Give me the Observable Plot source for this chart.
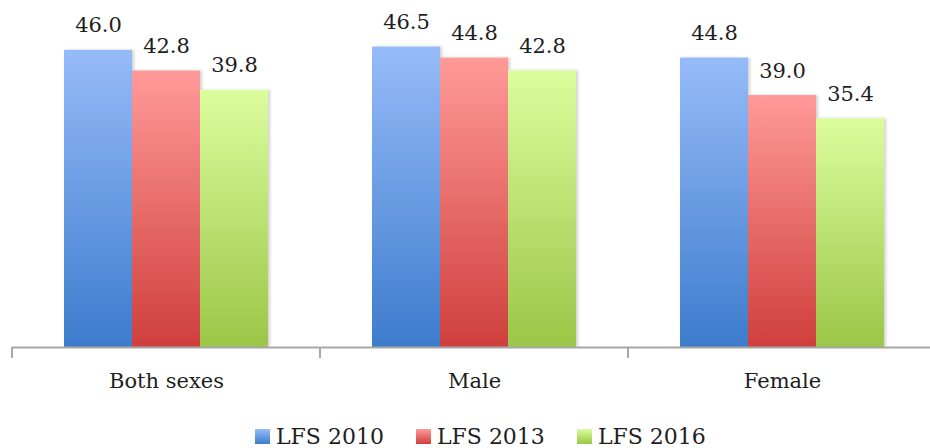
<!DOCTYPE html>
<html>
<head>
<meta charset="utf-8">
<script src="https://cdn.jsdelivr.net/npm/d3@7"></script>
<script src="https://cdn.jsdelivr.net/npm/@observablehq/plot@0.6"></script>
<style>
  html, body { margin: 0; padding: 0; background: #fff; overflow: hidden; }
  #chart { width: 930px; overflow: hidden; }
  #chart svg { max-width: none !important; display: block; }
  .legend { display: flex; align-items: center; height: 36px; padding-left: 255px;
            font-family: "DejaVu Serif", serif; font-size: 22px; color: #1e1e1e; }
  .legend .item { display: flex; align-items: center; margin-right: 32px; }
  .legend .sw { width: 15px; height: 15px; margin-right: 6px; }
</style>
</head>
<body>
<div id="chart"></div>
<script>
const categories = ["Both sexes", "Male", "Female"];
const series = ["LFS 2010", "LFS 2013", "LFS 2016"];
const lfs2010 = [46.0, 46.5, 44.8];
const lfs2013 = [42.8, 44.8, 39.0];
const lfs2016 = [39.8, 42.8, 35.4];
const baseColors = ["#6b9ae6", "#e86a68", "#bfe46e"];
const gradTop = ["#96bbf8", "#ff9a98", "#dbfd9d"];
const gradBottom = ["#3d7ccd", "#cf3f3c", "#9bc647"];

const seriesValues = [lfs2010, lfs2013, lfs2016];
const data = [];
categories.forEach((c, i) => series.forEach((s, j) => data.push({category: c, series: s, value: seriesValues[j][i]})));

const font = "DejaVu Serif, serif";
const plot = Plot.plot({
  width: 937,
  height: 418,
  marginTop: 24,
  marginBottom: 71,
  marginLeft: 11,
  marginRight: 0,
  style: {fontFamily: font, fontSize: "21px", color: "#1e1e1e", background: "#fff", maxWidth: "none"},
  fx: {domain: categories, padding: 0, axis: "bottom", tickSize: 0, tickPadding: 26, label: null},
  x: {domain: series, paddingInner: 0, paddingOuter: 0.755, axis: null},
  y: {domain: [0, 50], axis: null},
  color: {domain: series, range: baseColors},
  marks: [
    Plot.barY(data, {fx: "category", x: "series", y: "value", fill: "series", insetLeft: 0, insetRight: 0}),
    Plot.ruleY([0], {stroke: "#a8a8a8", strokeWidth: 2}),
    Plot.text(data, {fx: "category", x: "series", y: "value", text: d => d3.format(".1f")(d.value),
      lineAnchor: "bottom", dy: -18, fontSize: 21, fill: "#1e1e1e", fontFamily: font})
  ]
});

// gradients for bars
const svgEl = plot.tagName.toLowerCase() === "svg" ? plot : plot.querySelector("svg");
svgEl.style.maxWidth = "none";
const svg = d3.select(svgEl);
const defs = svg.insert("defs", ":first-child");
const filter = defs.append("filter").attr("id", "shadow").attr("x", "-10%").attr("y", "-10%").attr("width", "130%").attr("height", "120%");
filter.append("feDropShadow").attr("dx", 2).attr("dy", 0).attr("stdDeviation", 1.5).attr("flood-color", "#000").attr("flood-opacity", 0.18);
const colorToGrad = {};
series.forEach((s, j) => {
  const id = "grad" + j;
  const g = defs.append("linearGradient").attr("id", id).attr("x1", 0).attr("y1", 0).attr("x2", 0).attr("y2", 1);
  g.append("stop").attr("offset", "0%").attr("stop-color", gradTop[j]);
  g.append("stop").attr("offset", "100%").attr("stop-color", gradBottom[j]);
  colorToGrad[baseColors[j]] = id;
});
svg.selectAll("rect").each(function() {
  const f = this.getAttribute("fill");
  if (f && colorToGrad[f]) {
    this.setAttribute("fill", `url(#${colorToGrad[f]})`);
    this.setAttribute("filter", "url(#shadow)");
  }
});

// tick marks at band boundaries of fx
const fx = plot.scale("fx");
const yS = plot.scale("y");
const y0 = yS.apply(0);
const bounds = categories.map(c => fx.apply(c));
bounds.push(fx.apply(categories[categories.length - 1]) + fx.bandwidth);
const tickG = svg.append("g");
bounds.forEach(b => {
  tickG.append("line").attr("x1", b).attr("x2", b).attr("y1", y0).attr("y2", y0 + 11)
    .attr("stroke", "#a8a8a8").attr("stroke-width", 2);
});

document.getElementById("chart").appendChild(plot);

// legend
const legend = d3.select("#chart").append("div").attr("class", "legend");
series.forEach((s, j) => {
  const it = legend.append("div").attr("class", "item");
  it.append("div").attr("class", "sw").style("background", `linear-gradient(${gradTop[j]}, ${gradBottom[j]})`);
  it.append("span").text(s);
});
</script>
</body>
</html>
